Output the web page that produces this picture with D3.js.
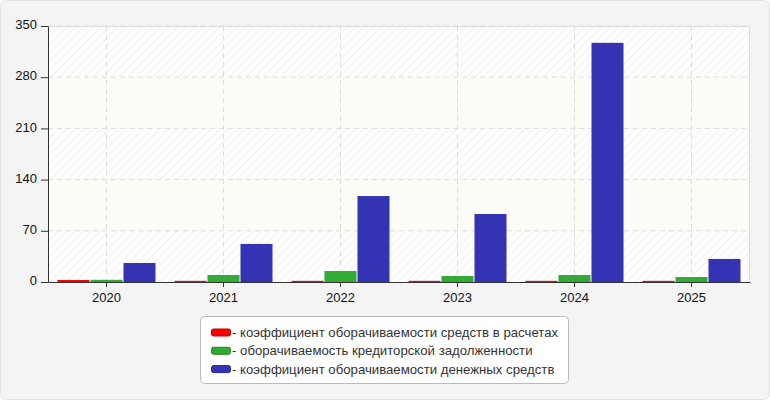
<!DOCTYPE html>
<html><head><meta charset="utf-8">
<script src="https://cdn.jsdelivr.net/npm/d3@7"></script>
<style>body{margin:0;background:#fff;}svg{display:block;font-family:"Liberation Sans",Arial,sans-serif;}</style>
</head><body><svg id="c" width="770" height="400"></svg>
<script>
const categories = ["2020","2021","2022","2023","2024","2025"];
const seriesNames = ["- коэффициент оборачиваемости средств в расчетах","- оборачиваемость кредиторской задолженности","- коэффициент оборачиваемости денежных средств"];
const redValues = [2.8, 1.6, 1.6, 1.6, 1.6, 1.6];
const greenValues = [3, 9.6, 15, 8.2, 9.6, 6.8];
const blueValues = [26, 52, 117.5, 93, 327, 31.5];
const yTicks = [0, 70, 140, 210, 280, 350];
const colors = ["#ff0000", "#33aa33", "#3333b3"];
const series = [redValues, greenValues, blueValues];

const svg = d3.select("#c");
const m = {l:48, r:750, t:26, b:282};
svg.append("rect").attr("x",0.5).attr("y",0.5).attr("width",769).attr("height",399).attr("rx",6)
  .attr("fill","#f4f4f4").attr("stroke","#e2e2e2");

const defs = svg.append("defs");
const pat = defs.append("pattern").attr("id","hatch").attr("patternUnits","userSpaceOnUse")
  .attr("width",6).attr("height",6).attr("patternTransform","rotate(45)");
pat.append("rect").attr("width",6).attr("height",6).attr("fill","#ffffff");
pat.append("line").attr("x1",0).attr("y1",0).attr("x2",0).attr("y2",6).attr("stroke","#efefef").attr("stroke-width",2);

const x = d3.scaleBand().domain(categories).range([m.l, m.r]);
const y = d3.scaleLinear().domain([0, 350]).range([m.b, m.t]);

for (let i = 0; i < yTicks.length - 1; i++) {
  svg.append("rect").attr("x", m.l).attr("width", m.r - m.l)
    .attr("y", y(yTicks[i+1])).attr("height", y(yTicks[i]) - y(yTicks[i+1]))
    .attr("fill", i % 2 === 0 ? "url(#hatch)" : "#fdfdf8");
}
svg.append("g").selectAll("line").data(yTicks.slice(1)).join("line")
  .attr("x1", m.l).attr("x2", m.r).attr("y1", d => y(d)).attr("y2", d => y(d))
  .attr("stroke", "#dcdcdc").attr("stroke-dasharray", "5,4");
svg.append("g").selectAll("line").data(categories).join("line")
  .attr("x1", d => x(d) + x.bandwidth()/2).attr("x2", d => x(d) + x.bandwidth()/2)
  .attr("y1", m.t).attr("y2", m.b)
  .attr("stroke", "#dcdcdc").attr("stroke-dasharray", "5,4");
svg.append("path").attr("d", `M${m.l},${m.t+0.5}H${m.r-0.5}V${m.b}`).attr("fill","none").attr("stroke","#dddddd");

const inner = d3.scaleBand().domain([0,1,2]).range([9.5, x.bandwidth() - 9.5]).paddingInner(0.03);
series.forEach((vals, si) => {
  svg.append("g").selectAll("rect").data(vals).join("rect")
    .attr("x", (d, i) => x(categories[i]) + inner(si))
    .attr("width", inner.bandwidth())
    .attr("y", d => y(d)).attr("height", d => y(0) - y(d))
    .attr("fill", colors[si]);
});

const yAxis = svg.append("g").attr("transform", `translate(${m.l},0)`)
  .call(d3.axisLeft(y).tickValues(yTicks).tickSize(7).tickPadding(4).tickSizeOuter(0));
yAxis.select(".domain").attr("stroke", "#333");
yAxis.selectAll(".tick line").attr("stroke", "#333");
yAxis.selectAll("text").attr("font-size", 13).attr("fill", "#111").attr("dy", "0.2em").attr("font-family", '"Liberation Sans",Arial,sans-serif');
const xAxis = svg.append("g").attr("transform", `translate(0,${m.b})`)
  .call(d3.axisBottom(x).tickSize(5).tickPadding(6).tickSizeOuter(0));
xAxis.select(".domain").attr("stroke", "#333");
xAxis.selectAll(".tick line").attr("stroke", "#333");
xAxis.selectAll("text").attr("font-size", 13).attr("fill", "#111").attr("font-family", '"Liberation Sans",Arial,sans-serif');

const lg = svg.append("g");
lg.append("rect").attr("x", 200.5).attr("y", 316.5).attr("width", 368).attr("height", 67).attr("rx", 4)
  .attr("fill", "#ffffff").attr("stroke", "#bbbbbb");
seriesNames.forEach((n, i) => {
  const yy = 332.5 + i * 18.3;
  lg.append("rect").attr("x", 211.5).attr("y", yy - 3.5).attr("width", 19).attr("height", 7).attr("rx", 2)
    .attr("fill", colors[i]).attr("stroke", d3.color(colors[i]).darker(0.8));
  lg.append("text").attr("x", 232).attr("y", yy + 4.5).attr("font-size", 13.2).attr("fill", "#333")
    .attr("font-family", '"Liberation Sans",Arial,sans-serif').text(n);
});
</script></body></html>
